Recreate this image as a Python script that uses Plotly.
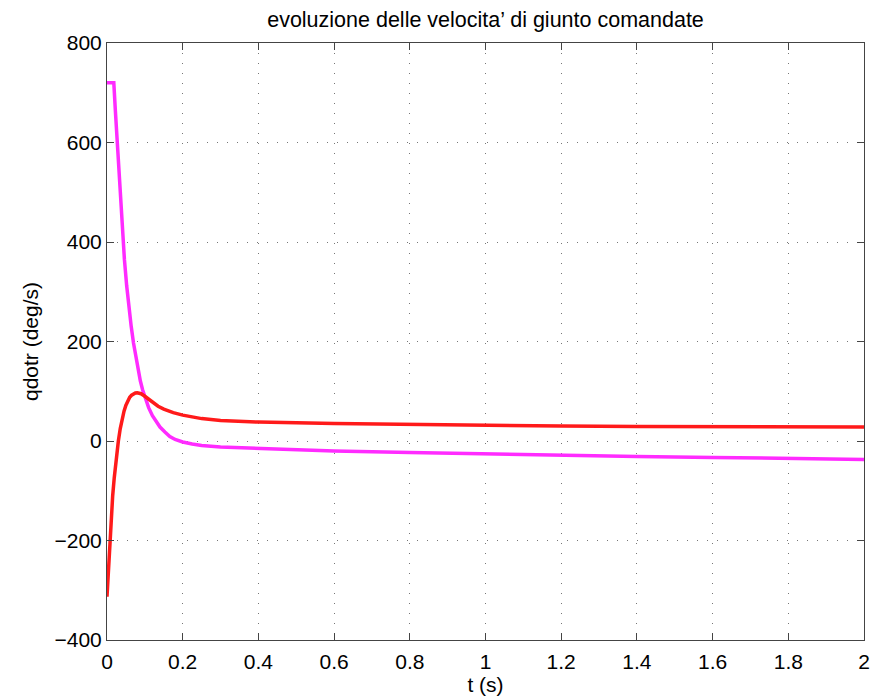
import plotly.graph_objects as go

# commanded joint velocities (deg/s) vs time (s)
t_red = [0, 0.004, 0.008, 0.012, 0.015, 0.019, 0.022, 0.026, 0.03, 0.035, 0.04, 0.045, 0.05,
         0.055, 0.06, 0.065, 0.07, 0.075, 0.08, 0.085, 0.09, 0.1, 0.11, 0.12, 0.135, 0.15,
         0.175, 0.2, 0.25, 0.3, 0.4, 0.6, 0.8, 1.0, 1.2, 1.4, 1.6, 1.8, 2.0]
qdot_red = [-313, -250, -195, -145, -110, -75, -50, -22, 0, 25, 45, 60, 72,
            81, 88, 92, 95, 96.5, 97, 96.5, 95, 90, 84, 78, 70, 64,
            57, 52, 45, 41, 38, 35, 33, 31, 30, 29, 28.5, 28, 28]

t_mag = [0, 0.018, 0.022, 0.027, 0.030, 0.034, 0.038, 0.041, 0.046, 0.052, 0.058, 0.064,
         0.070, 0.076, 0.082, 0.088, 0.094, 0.1, 0.11, 0.12, 0.13, 0.14, 0.153, 0.166,
         0.18, 0.2, 0.225, 0.25, 0.3, 0.4, 0.6, 0.8, 1.0, 1.2, 1.4, 1.6, 1.8, 2.0]
qdot_mag = [720, 720, 665, 600, 555, 500, 450, 415, 365, 312, 268, 230,
            197, 168, 143, 121, 103, 88, 67, 51, 38, 28, 18, 9,
            3, -2, -6, -9, -12, -15, -20, -23, -26, -28.5, -31, -33, -35, -37]

x_ticks = [0, 0.2, 0.4, 0.6, 0.8, 1, 1.2, 1.4, 1.6, 1.8, 2]
x_labels = ["0", "0.2", "0.4", "0.6", "0.8", "1", "1.2", "1.4", "1.6", "1.8", "2"]
y_ticks = [-400, -200, 0, 200, 400, 600, 800]
y_labels = ["\u2212400", "\u2212200", "0", "200", "400", "600", "800"]

fig = go.Figure()
fig.add_trace(go.Scatter(x=t_mag, y=qdot_mag, mode="lines",
                         line=dict(color="#ff2bff", width=3.5)))
fig.add_trace(go.Scatter(x=t_red, y=qdot_red, mode="lines",
                         line=dict(color="#ff1a1a", width=3.5)))

axis_common = dict(
    showline=True, linecolor="#444444", linewidth=1, mirror="ticks",
    ticks="inside", ticklen=7, tickcolor="#444444",
    showgrid=True, gridcolor="#777777", griddash="1px,9px", gridwidth=1,
    zeroline=False, tickfont=dict(size=21, color="black"), automargin=False,
)

fig.update_layout(
    width=874, height=699,
    plot_bgcolor="white", paper_bgcolor="white",
    font=dict(family="Liberation Sans, Arial, sans-serif", color="black"),
    showlegend=False,
    margin=dict(l=107, r=10, t=43, b=59),
    title=dict(text="evoluzione delle velocita\u2019 di giunto comandate",
               x=0.5, xanchor="center", xref="paper", y=0.972, yanchor="middle",
               font=dict(size=21.5)),
)
fig.update_xaxes(range=[0, 2], tickvals=x_ticks, ticktext=x_labels, ticklabelstandoff=3,
                 title=dict(text="t (s)", font=dict(size=21), standoff=3), **axis_common)
fig.update_yaxes(range=[-400, 800], tickvals=y_ticks, ticktext=y_labels,
                 title=dict(text="qdotr (deg/s)", font=dict(size=21), standoff=10), **axis_common)

fig.write_html("out.html", config={"displayModeBar": False},
               post_script="document.body.style.margin='0';")
